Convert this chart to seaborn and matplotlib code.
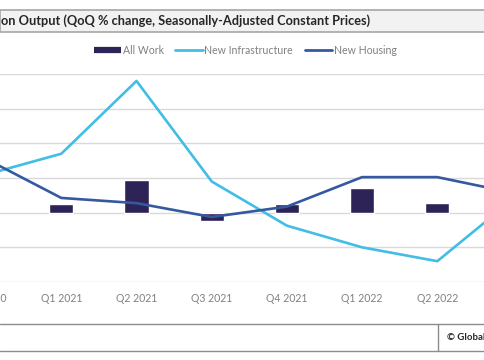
import matplotlib
matplotlib.use("Agg")
import matplotlib.pyplot as plt
import seaborn as sns
import numpy as np
import pandas as pd
from matplotlib.lines import Line2D
from matplotlib.patches import Rectangle

quarters = ["Q4 2020", "Q1 2021", "Q2 2021", "Q3 2021", "Q4 2021", "Q1 2022", "Q2 2022", "Q3 2022"]
all_work = [0.9, 0.5, 1.9, -0.5, 0.5, 1.4, 0.55, 0.5]
new_infrastructure = [2.2, 3.4, 7.6, 1.8, -0.75, -2.0, -2.8, 0.75]
new_housing = [3.1, 0.85, 0.55, -0.25, 0.35, 2.05, 2.05, 1.15]
y_ticks = [-4, -2, 0, 2, 4, 6, 8]

C_WORK = "#2E2356"
C_INFRA = "#41BDE6"
C_HOUSE = "#3559A0"
GRAY = "#808080"

sns.set_theme(style="white")
plt.rcParams["font.family"] = ["Lato", "DejaVu Sans"]

W, H = 485, 360
fig = plt.figure(figsize=(W / 100, H / 100), dpi=100)
ax_bottom, ax_top = 282, 74
# plot area is wider than the (cropped) picture
step = 75.2
c0 = -13.9
left_px = c0 - 0.5 * step
width_px = len(quarters) * step
ax = fig.add_axes([left_px / W, 1 - ax_bottom / H, width_px / W, (ax_bottom - ax_top) / H])

df = pd.DataFrame({"quarter": quarters, "pos": np.arange(len(quarters)),
                   "all_work": all_work, "infra": new_infrastructure, "housing": new_housing})

sns.barplot(data=df, x="quarter", y="all_work", color=C_WORK, width=0.32,
            saturation=1, ax=ax, zorder=2)
sns.lineplot(data=df, x="pos", y="infra", color=C_INFRA, linewidth=1.9, ax=ax, zorder=3)
sns.lineplot(data=df, x="pos", y="housing", color=C_HOUSE, linewidth=1.9, ax=ax, zorder=3)

ax.set_xticks(np.arange(len(quarters)))
ax.set_xticklabels(quarters, color=GRAY, fontsize=7.6)
ax.set_yticks(y_ticks)
ax.set_xlim(-0.5, len(quarters) - 0.5)
ax.set_ylim(-4, 8)
ax.yaxis.grid(True, color="#D9D9D9", linewidth=1.0)
ax.set_axisbelow(True)
for s in ax.spines.values():
    s.set_visible(False)
ax.tick_params(axis="x", length=0, pad=8)
ax.tick_params(axis="y", left=False, labelleft=False)
ax.set_xlabel("")
ax.set_ylabel("")

# title bar
fig.patches.append(Rectangle((0, 1 - 31.5 / H), 1, 22 / H, transform=fig.transFigure,
                             facecolor="#F2F2F2", edgecolor="#A6A6A6", linewidth=1.2, zorder=0))
fig.text(0.002, 1 - 21 / H, "on Output (QoQ % change, Seasonally-Adjusted Constant Prices)",
         fontsize=9.2, fontweight="bold", color="#262626", ha="left", va="center")

# legend
handles = [Line2D([], [], color=C_WORK, linewidth=4.5, solid_capstyle="butt"),
           Line2D([], [], color=C_INFRA, linewidth=2),
           Line2D([], [], color=C_HOUSE, linewidth=2)]
fig.legend(handles, ["All Work", "New Infrastructure", "New Housing"], loc="center",
           bbox_to_anchor=(245 / W, 1 - 50 / H), ncol=3, frameon=False,
           fontsize=7.6, labelcolor=GRAY, handlelength=2.6, handletextpad=0.15,
           columnspacing=1.1)

# footer
fig.add_artist(Line2D([0, 1], [1 - 323.5 / H] * 2, transform=fig.transFigure, color="#8C8C8C", linewidth=1))
fig.add_artist(Line2D([0, 1], [1 - 351 / H] * 2, transform=fig.transFigure, color="#8C8C8C", linewidth=1))
fig.add_artist(Line2D([438.5 / W] * 2, [1 - 323.5 / H, 1 - 351 / H], transform=fig.transFigure,
                      color="#8C8C8C", linewidth=1))
fig.text(447 / W, 1 - 338 / H, "© GlobalData", fontsize=6.9, fontweight="bold",
         color="#262626", ha="left", va="center")

fig.savefig("out.png", dpi=100)
